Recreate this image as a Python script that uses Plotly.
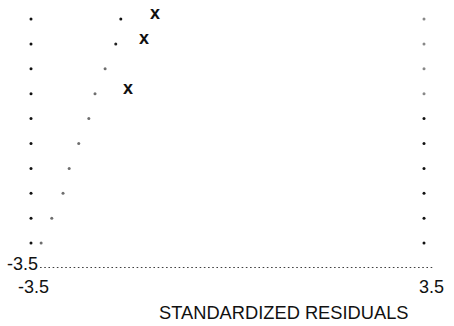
import plotly.graph_objects as go

# Rows of the character plot (normal scores), top to bottom
rows = [3.5, 2.8, 2.1, 1.4, 0.7, 0.0, -0.7, -1.4, -2.1, -2.8]
# Standardized residuals plotted as dots, one per row
resid = [-1.90, -1.99, -2.18, -2.36, -2.47, -2.65, -2.82, -2.93, -3.13, -3.32]
# Outlying residuals plotted as 'x'
out_rows = [3.5, 2.8, 1.4]
out_resid = [-1.29, -1.49, -1.77]
# Axis extremes / tick labels
x_ticks = [-3.5, 3.5]
x_tick_text = ["-3.5", "3.5"]
y_min = -3.5
y_max = 3.5
x_title = "STANDARDIZED RESIDUALS"

FONT = "Liberation Sans, Arial, sans-serif"

fig = go.Figure()

# left and right guide dot columns
fig.add_trace(go.Scatter(x=[x_ticks[0]] * len(rows), y=rows, mode="markers",
                         marker=dict(size=3, color="#111111"), cliponaxis=False,
                         hoverinfo="skip", showlegend=False))
right_colors = ["#888888"] * 4 + ["#111111"] * (len(rows) - 4)
fig.add_trace(go.Scatter(x=[x_ticks[1]] * len(rows), y=rows, mode="markers",
                         marker=dict(size=3, color=right_colors), cliponaxis=False,
                         hoverinfo="skip", showlegend=False))

# residual dots
dot_colors = ["#111111", "#222222"] + ["#6e6e6e"] * (len(resid) - 2)
fig.add_trace(go.Scatter(x=resid, y=rows, mode="markers",
                         marker=dict(size=3, color=dot_colors), cliponaxis=False,
                         showlegend=False))

annotations = []
for xv, yv in zip(out_resid, out_rows):
    annotations.append(dict(x=xv, y=yv, xref="x", yref="y", text="<b>x</b>", showarrow=False,
                            font=dict(family=FONT, size=18, color="#111111"),
                            xanchor="center", yanchor="middle", yshift=6))

# y label at bottom-left
annotations.append(dict(x=0, y=y_min, xref="paper", yref="y", text="-3.5", showarrow=False,
                        font=dict(family=FONT, size=18, color="#111111"),
                        xanchor="right", yanchor="middle", xshift=9, yshift=4))
# x tick labels
annotations.append(dict(x=x_ticks[0], y=y_min, xref="x", yref="y", text=x_tick_text[0],
                        showarrow=False, font=dict(family=FONT, size=18, color="#111111"),
                        xanchor="center", yanchor="middle", xshift=2, yshift=-19))
annotations.append(dict(x=x_ticks[1], y=y_min, xref="x", yref="y", text=x_tick_text[1],
                        showarrow=False, font=dict(family=FONT, size=18, color="#111111"),
                        xanchor="center", yanchor="middle", xshift=7, yshift=-19))
# x title
annotations.append(dict(x=0.645, y=y_min, xref="paper", yref="y", text=x_title,
                        showarrow=False, font=dict(family=FONT, size=18.3, color="#111111"),
                        xanchor="center", yanchor="middle", yshift=-44))

fig.update_layout(
    width=454, height=326,
    margin=dict(l=31, r=30, t=19, b=58),
    paper_bgcolor="white", plot_bgcolor="white",
    xaxis=dict(range=[x_ticks[0], x_ticks[1]], visible=False),
    yaxis=dict(range=[y_min, y_max], visible=False),
    annotations=annotations,
    shapes=[dict(type="line", xref="paper", yref="y", x0=0.023, x1=1.025, y0=y_min, y1=y_min,
                 line=dict(color="#000000", width=1.6, dash="1.6px,2.6px"))],
)

fig.write_html("out.html", config={"displayModeBar": False},
               post_script="document.body.style.margin='0px';")
